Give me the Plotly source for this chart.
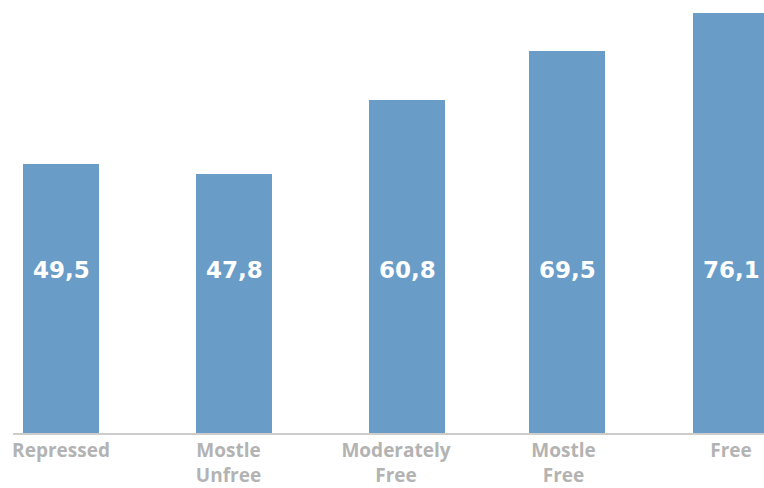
import plotly.graph_objects as go

categories = ["Repressed", "Mostle<br>Unfree", "Moderately<br>Free", "Mostle<br>Free", "Free"]
values = [49.5, 47.8, 60.8, 69.5, 76.1]
labels = [f"{v:.1f}".replace(".", ",") for v in values]

# small horizontal nudges of the bars (in category units), as in the reference
bar_shift = [0.0, 0.033, 0.066, 0.021, 0.0]
bar_width = 0.4537
unit_px = 167.5

fig = go.Figure()
fig.add_trace(go.Bar(
    x=categories, y=values,
    marker=dict(color="#699CC7", line=dict(width=0)),
    width=bar_width,
    offset=[-bar_width / 2 + s for s in bar_shift],
    hoverinfo="skip",
))

for c, t, s in zip(categories, labels, bar_shift):
    fig.add_annotation(
        x=c, y=0.376, xref="x", yref="paper",
        xshift=s * unit_px,
        text=f"<b>{t}</b>", showarrow=False,
        font=dict(family="DejaVu Sans", size=23, color="white"),
        xanchor="center", yanchor="middle",
    )

fig.update_layout(
    width=764, height=488,
    margin=dict(l=13, r=0, t=0, b=55, autoexpand=False),
    paper_bgcolor="white", plot_bgcolor="white",
    showlegend=False,
    bargap=0,
    xaxis=dict(
        range=[-0.2866, 4.197],
        automargin=False,
        showgrid=False, zeroline=False,
        showline=True, linecolor="#CCCCCC", linewidth=2,
        ticks="", ticklabelstandoff=-1,
        tickfont=dict(family="Open Sans", size=19, color="#B3B3B3", weight="bold"),
    ),
    yaxis=dict(
        range=[2.1, 78.4],
        automargin=False,
        visible=False, showgrid=False, zeroline=False,
    ),
)

fig.write_html("out.html")
